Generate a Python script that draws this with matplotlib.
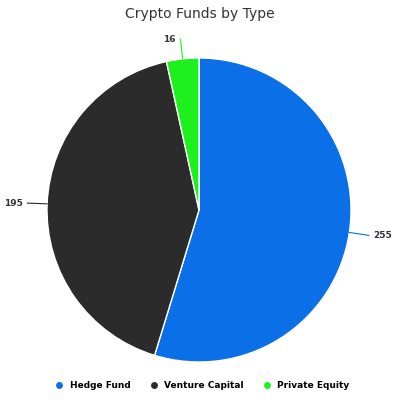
import numpy as np
import matplotlib.pyplot as plt
from matplotlib.lines import Line2D

categories = ["Hedge Fund", "Venture Capital", "Private Equity"]
counts = [255, 195, 16]
colors = ["#0b6fe8", "#2b2b2b", "#1ef01e"]

fig = plt.figure(figsize=(4, 4), dpi=100)
ax = fig.add_axes([0.1175, 0.095, 0.76, 0.76])
wedges, _ = ax.pie(counts, colors=colors, startangle=90, counterclock=False,
                   wedgeprops=dict(edgecolor="white", linewidth=1))
ax.set_xlim(-1, 1)
ax.set_ylim(-1, 1)
ax.set_aspect("equal")

# value labels with leader lines
for w, val, col in zip(wedges, counts, colors):
    ang = np.deg2rad((w.theta1 + w.theta2) / 2)
    x, y = np.cos(ang), np.sin(ang)
    x1, y1 = 1.0 * x, 1.0 * y
    x2, y2 = 1.13 * x, 1.13 * y
    ax.plot([x1, x2], [y1, y2], color=col, lw=0.8, clip_on=False)
    ha = "left" if x > 0 else "right"
    ax.text(x2 + (0.03 if x > 0 else -0.03), y2, str(val), ha=ha, va="center",
            fontsize=6.5, fontweight="bold", color="#333333")

fig.text(0.5, 0.965, "Crypto Funds by Type", ha="center", va="center",
         fontsize=10, color="#333333")

handles = [Line2D([0], [0], marker="o", color="w", markerfacecolor=c,
                  markersize=6) for c in colors]
fig.legend(handles, categories, loc="center", bbox_to_anchor=(0.5, 0.035),
           ncol=3, frameon=False, fontsize=6.5, handletextpad=0.2,
           columnspacing=1.5, prop={"weight": "bold", "size": 6.5})

fig.savefig("out.png", dpi=100)
